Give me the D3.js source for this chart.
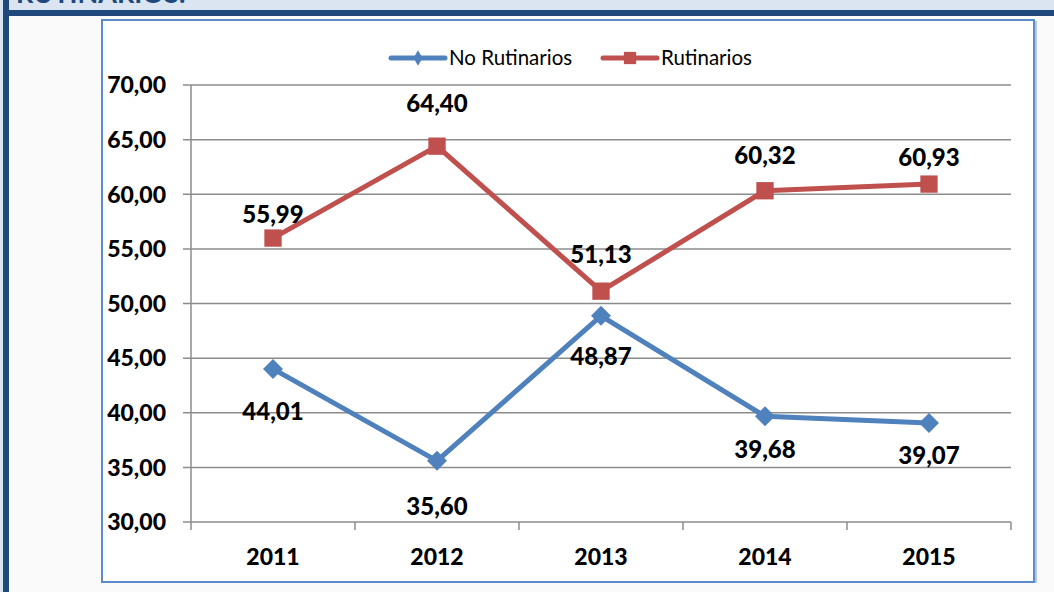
<!DOCTYPE html>
<html>
<head>
<meta charset="utf-8">
<script src="https://cdn.jsdelivr.net/npm/d3@7"></script>
<style>
  body { margin: 0; background: #fafafa; }
  svg { display: block; }
</style>
</head>
<body>
<svg id="chart" width="1054" height="592"></svg>
<script>
var years = ["2011", "2012", "2013", "2014", "2015"];
var noRutinarios = [44.01, 35.6, 48.87, 39.68, 39.07];
var rutinarios = [55.99, 64.4, 51.13, 60.32, 60.93];
var yTicks = [30, 35, 40, 45, 50, 55, 60, 65, 70];

// label offsets from the point (px), as placed in the original
var noRutLabelDy = [42, 46, 41, 33, 32];
var rutLabelDy = [-24, -43, -37, -35, -27];

var svg = d3.select("#chart"),
  width = +svg.attr("width"),
  height = +svg.attr("height");

var font = "Lato, 'Open Sans', sans-serif";
var fmt = function (v) {
  return v.toFixed(2).replace(".", ",");
};

// page decoration
svg.append("rect").attr("x", 0).attr("y", 0).attr("width", width).attr("height", 10).attr("fill", "#dbe5f1");
svg.append("text")
  .attr("x", 16).attr("y", 3)
  .style("font-family", font).style("font-weight", "bold").style("font-size", "27px")
  .attr("fill", "#1f497d")
  .text("RUTINARIOS.");
svg.append("rect").attr("x", 0).attr("y", 10).attr("width", width).attr("height", 6).attr("fill", "#1f497d");
svg.append("rect").attr("x", 0).attr("y", 0).attr("width", 3).attr("height", height).attr("fill", "#dbe5f1");
svg.append("rect").attr("x", 3).attr("y", 0).attr("width", 6).attr("height", height).attr("fill", "#1f497d");

// chart box
svg.append("rect")
  .attr("x", 102).attr("y", 20).attr("width", 932).attr("height", 562)
  .attr("fill", "#fff").attr("stroke", "#5b8bc8").attr("stroke-width", 2);
svg.append("line")
  .attr("x1", 1036).attr("x2", 1036).attr("y1", 21).attr("y2", 583)
  .attr("stroke", "#9bb7dc").attr("stroke-width", 1.5);

var x = d3.scaleBand().domain(years).range([191, 1011]);
var y = d3.scaleLinear().domain([30, 70]).range([522, 85]);

var g = svg.append("g");

// gridlines
g.selectAll(".grid")
  .data(yTicks)
  .enter()
  .append("line")
  .attr("x1", 183).attr("x2", 1011)
  .attr("y1", function (d) { return y(d); })
  .attr("y2", function (d) { return y(d); })
  .attr("stroke", "#8c8c8c").attr("stroke-width", 1.5);

// y axis line
g.append("line")
  .attr("x1", 191).attr("x2", 191).attr("y1", 85).attr("y2", 522)
  .attr("stroke", "#8c8c8c").attr("stroke-width", 1.5);

// x ticks at band edges
var edges = years.map(function (d) { return x(d); }).concat([x.range()[1]]);
g.selectAll(".xtick")
  .data(edges)
  .enter()
  .append("line")
  .attr("x1", function (d) { return d; })
  .attr("x2", function (d) { return d; })
  .attr("y1", 522).attr("y2", 530)
  .attr("stroke", "#8c8c8c").attr("stroke-width", 1.5);

// y labels
g.selectAll(".ylab")
  .data(yTicks)
  .enter()
  .append("text")
  .attr("x", 166)
  .attr("y", function (d) { return y(d); })
  .attr("dy", "0.36em")
  .attr("text-anchor", "end")
  .style("font-family", font).style("font-weight", "900").style("font-size", "23px")
  .text(fmt);

// x labels
g.selectAll(".xlab")
  .data(years)
  .enter()
  .append("text")
  .attr("x", function (d) { return x(d) + x.bandwidth() / 2; })
  .attr("y", 557)
  .attr("dy", "0.36em")
  .attr("text-anchor", "middle")
  .style("font-family", font).style("font-weight", "900").style("font-size", "23px")
  .text(function (d) { return d; });

var line = d3.line()
  .x(function (d, i) { return x(years[i]) + x.bandwidth() / 2; })
  .y(function (d) { return y(d); });

var series = [
  { name: "No Rutinarios", values: noRutinarios, color: "#4f81bd", dy: noRutLabelDy, marker: "diamond" },
  { name: "Rutinarios", values: rutinarios, color: "#c0504d", dy: rutLabelDy, marker: "square" },
];

series.forEach(function (s) {
  g.append("path")
    .datum(s.values)
    .attr("d", line)
    .attr("fill", "none")
    .attr("stroke", s.color)
    .attr("stroke-width", 5)
    .attr("stroke-linejoin", "round");

  // diamond = square turned 45 degrees, like the spreadsheet marker
  var sym = s.marker === "diamond"
    ? d3.symbol().type(d3.symbolSquare).size(200)
    : d3.symbol().type(d3.symbolSquare).size(300);
  var rot = s.marker === "diamond" ? " rotate(45)" : "";

  g.selectAll(".m-" + s.marker)
    .data(s.values)
    .enter()
    .append("path")
    .attr("d", sym)
    .attr("transform", function (d, i) {
      return "translate(" + (x(years[i]) + x.bandwidth() / 2) + "," + y(d) + ")" + rot;
    })
    .attr("fill", s.color);

  g.selectAll(".l-" + s.marker)
    .data(s.values)
    .enter()
    .append("text")
    .attr("x", function (d, i) { return x(years[i]) + x.bandwidth() / 2; })
    .attr("y", function (d, i) { return y(d) + s.dy[i]; })
    .attr("dy", "0.36em")
    .attr("text-anchor", "middle")
    .style("font-family", font).style("font-weight", "900").style("font-size", "24px")
    .text(fmt);
});

// legend
var legend = g.append("g");
var legendItems = [
  { x0: 391, s: series[0] },
  { x0: 603, s: series[1] },
];
legendItems.forEach(function (it) {
  legend.append("line")
    .attr("x1", it.x0).attr("x2", it.x0 + 54)
    .attr("y1", 58).attr("y2", 58)
    .attr("stroke", it.s.color).attr("stroke-width", 5).attr("stroke-linecap", "round");
  var sym = it.s.marker === "diamond"
    ? d3.symbol().type(d3.symbolDiamond).size(70)
    : d3.symbol().type(d3.symbolSquare).size(150);
  legend.append("path")
    .attr("d", sym)
    .attr("transform", "translate(" + (it.x0 + 27) + ",58)")
    .attr("fill", it.s.color);
  legend.append("text")
    .attr("x", it.x0 + 58).attr("y", 58)
    .attr("dy", "0.36em")
    .style("font-family", font).style("font-size", "20.5px")
    .text(it.s.name);
});
</script>
</body>
</html>
